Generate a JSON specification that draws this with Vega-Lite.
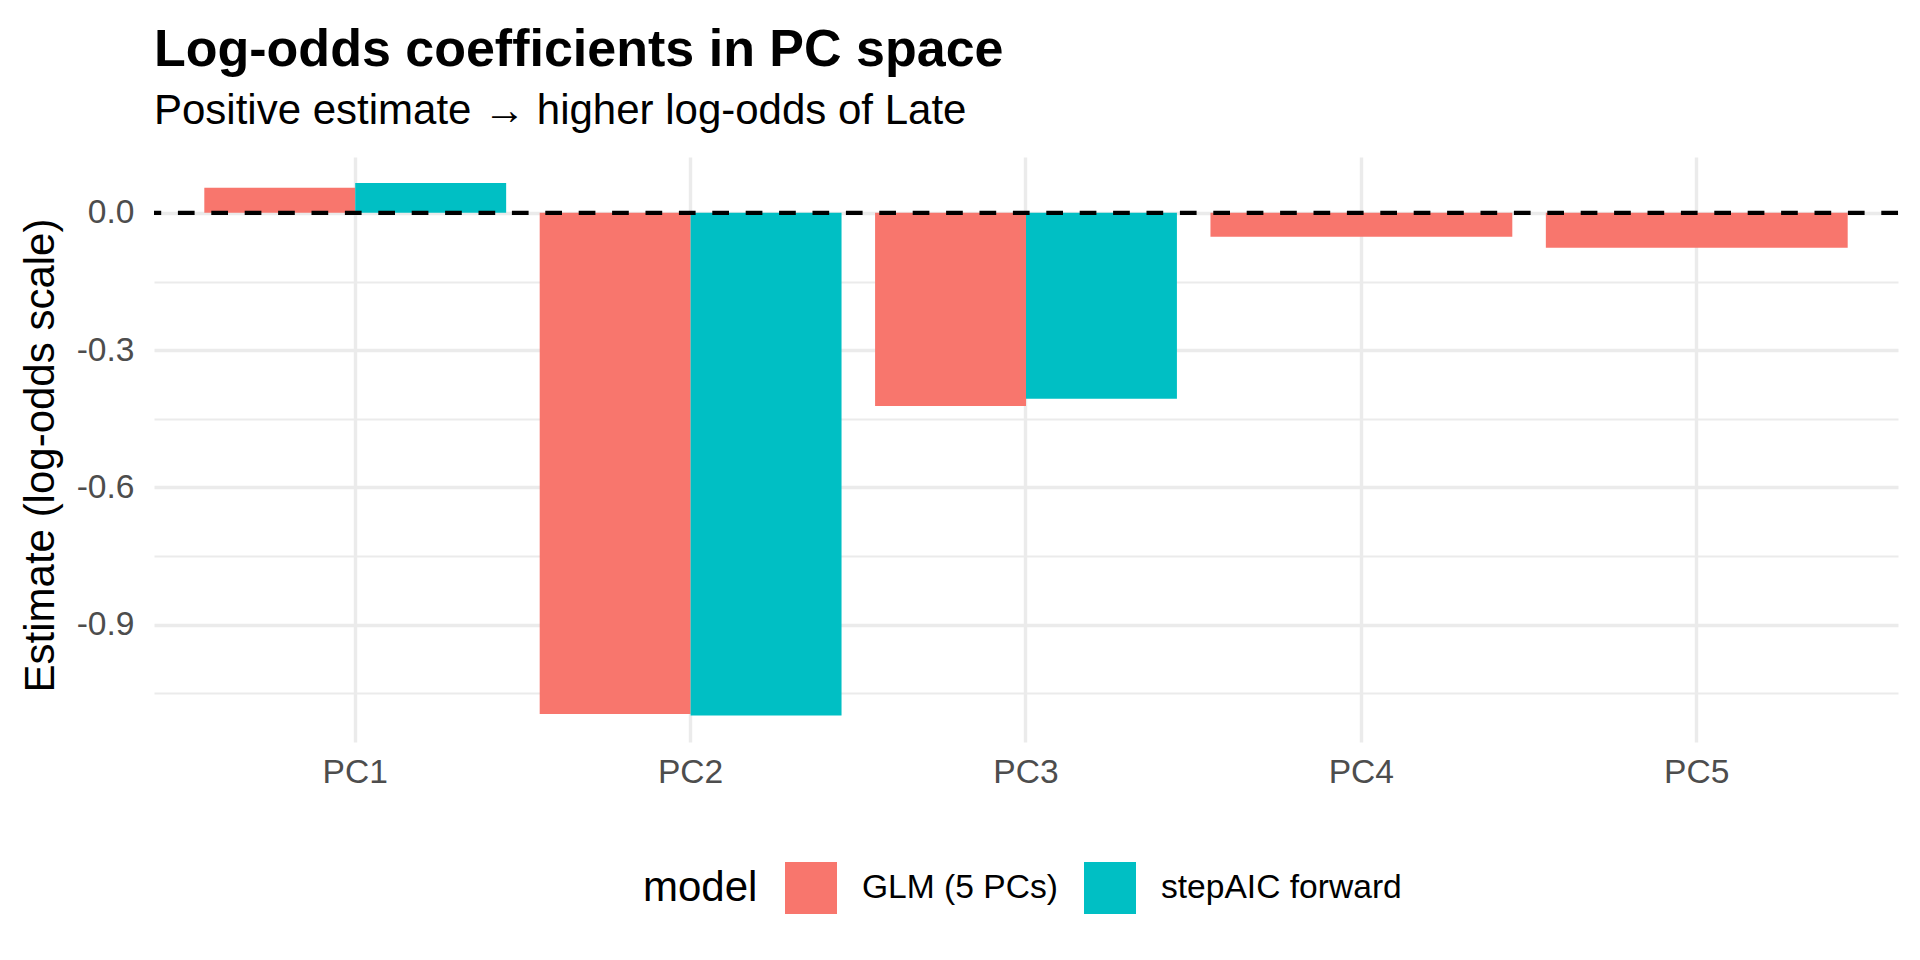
{
  "$schema": "https://vega.github.io/schema/vega-lite/v6.json",
  "width": 1744,
  "height": 585,
  "autosize": "none",
  "padding": {"left": 154, "top": 157, "right": 22, "bottom": 218},
  "background": "white",
  "title": {
    "text": "Log-odds coefficients in PC space",
    "subtitle": "Positive estimate → higher log-odds of Late",
    "anchor": "start",
    "frame": "group",
    "font": "Liberation Sans",
    "fontSize": 52,
    "fontWeight": "bold",
    "color": "black",
    "subtitleFont": "Liberation Sans",
    "subtitleFontSize": 42,
    "subtitleColor": "black",
    "offset": 24,
    "subtitlePadding": 14
  },
  "config": {
    "view": {"stroke": null},
    "font": "Liberation Sans"
  },
  "data": {
    "values": [
      {"term": "PC1", "model": "GLM (5 PCs)", "estimate": 0.055},
      {"term": "PC1", "model": "stepAIC forward", "estimate": 0.065},
      {"term": "PC2", "model": "GLM (5 PCs)", "estimate": -1.095},
      {"term": "PC2", "model": "stepAIC forward", "estimate": -1.098},
      {"term": "PC3", "model": "GLM (5 PCs)", "estimate": -0.422},
      {"term": "PC3", "model": "stepAIC forward", "estimate": -0.406},
      {"term": "PC4", "model": "GLM (5 PCs)", "estimate": -0.052},
      {"term": "PC5", "model": "GLM (5 PCs)", "estimate": -0.076}
    ]
  },
  "layer": [
    {
      "transform": [{"filter": {"field": "term", "oneOf": ["PC1", "PC2", "PC3"]}}],
      "mark": {"type": "bar", "opacity": 1},
      "encoding": {
        "x": {
          "field": "term",
          "type": "nominal",
          "sort": ["PC1", "PC2", "PC3", "PC4", "PC5"],
          "scale": {"domain": ["PC1", "PC2", "PC3", "PC4", "PC5"], "paddingInner": 0.1, "paddingOuter": 0.15},
          "axis": {
            "title": null,
            "bandPosition": 0.5,
            "grid": true,
            "gridColor": "#EBEBEB",
            "gridWidth": 3.4,
            "domain": false,
            "ticks": false,
            "tickSize": 0,
            "labelAngle": 0,
            "labelFont": "Liberation Sans",
            "labelFontSize": 33.6,
            "labelColor": "#4D4D4D",
            "labelPadding": 13
          }
        },
        "xOffset": {"field": "model", "type": "nominal", "sort": ["GLM (5 PCs)", "stepAIC forward"]},
        "y": {
          "field": "estimate",
          "type": "quantitative",
          "scale": {"domain": [-1.156, 0.122], "nice": false, "zero": false},
          "axis": {
            "title": "Estimate (log-odds scale)",
            "titleFont": "Liberation Sans",
            "titleFontSize": 42,
            "titleFontWeight": "normal",
            "titleColor": "black",
            "titleBaseline": "alphabetic",
            "titleX": -101,
            "titleY": 298,
            "values": [-1.05, -0.9, -0.75, -0.6, -0.45, -0.3, -0.15, 0],
            "labelExpr": "abs((datum.value * 100) % 30) < 1 ? replace(format(datum.value, '.1f'), '\u2212', '-') : ''",
            "grid": true,
            "gridColor": "#EBEBEB",
            "gridWidth": {"condition": {"test": "abs((datum.value * 100) % 30) < 1", "value": 3.4}, "value": 1.8},
            "domain": false,
            "ticks": false,
            "tickSize": 0,
            "labelFont": "Liberation Sans",
            "labelFontSize": 33.6,
            "labelColor": "#4D4D4D",
            "labelPadding": 20
          }
        },
        "color": {
          "field": "model",
          "type": "nominal",
          "scale": {"domain": ["GLM (5 PCs)", "stepAIC forward"], "range": ["#F8766D", "#00BFC4"]},
          "legend": {
            "orient": "none",
            "legendX": 489,
            "legendY": 705,
            "direction": "horizontal",
            "title": "model",
            "titleOrient": "left",
            "titleFont": "Liberation Sans",
            "titleFontSize": 42,
            "titleFontWeight": "normal",
            "titleColor": "black",
            "titleBaseline": "middle",
            "titlePadding": 27,
            "symbolType": "square",
            "symbolSize": 2704,
            "symbolStrokeWidth": 0,
            "symbolOpacity": 1,
            "labelFont": "Liberation Sans",
            "labelFontSize": 33.6,
            "labelColor": "black",
            "labelLimit": 500,
            "labelOffset": 25,
            "columnPadding": 26,
            "padding": 0
          }
        }
      }
    },
    {
      "transform": [{"filter": {"field": "term", "oneOf": ["PC4", "PC5"]}}],
      "mark": {"type": "bar", "opacity": 1},
      "encoding": {
        "x": {"field": "term", "type": "nominal", "sort": ["PC1", "PC2", "PC3", "PC4", "PC5"]},
        "y": {"field": "estimate", "type": "quantitative"},
        "color": {"field": "model", "type": "nominal"}
      }
    },
    {
      "data": {"values": [{"ref": "zero"}]},
      "mark": {"type": "rule", "color": "black", "strokeWidth": 4.3, "strokeDash": [16.7, 16.7]},
      "encoding": {
        "y": {"datum": 0}
      }
    }
  ]
}
